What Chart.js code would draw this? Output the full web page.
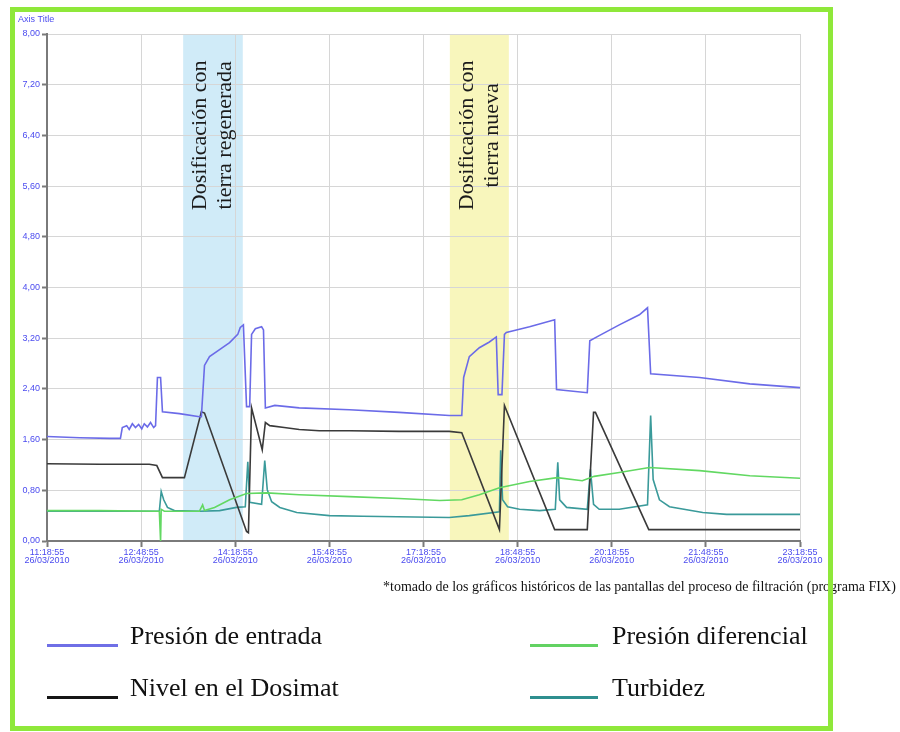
<!DOCTYPE html>
<html>
<head>
<meta charset="utf-8">
<script src="https://cdn.jsdelivr.net/npm/chart.js@4.4.0/dist/chart.umd.min.js"></script>
<style>
  html, body { margin: 0; padding: 0; background: #ffffff; }
  #wrap { position: relative; width: 900px; height: 732px; overflow: hidden; background: #ffffff; }
  #c { position: absolute; left: 0; top: 0; }
  .frame { position: absolute; left: 10px; top: 7px; width: 813px; height: 714px;
           border: 5px solid #8fe83a; z-index: 3; pointer-events: none; }
  .note { position: absolute; left: 383px; top: 579px; font-family: 'Liberation Serif', serif;
          font-size: 14px; white-space: nowrap; color: #111; z-index: 1; }
  .key { position: absolute; font-family: 'Liberation Serif', serif; font-size: 26px;
         color: #111; white-space: nowrap; line-height: 1; }
  .sw { position: absolute; height: 3px; }
</style>
</head>
<body>
<div id="wrap">
  <canvas id="c" width="900" height="732"></canvas>
  <div class="note" id="note"></div>
  <div id="legend"></div>
  <div class="frame"></div>
</div>
<script>
// Filtration process history, 26/03/2010, hours counted from 11:18:55
const seriesNames = ['Presión de entrada', 'Presión diferencial', 'Nivel en el Dosimat', 'Turbidez'];
const timeTickHours = [0, 1.5, 3, 4.5, 6, 7.5, 9, 10.5, 12];
const timeTickLabels = ['11:18:55', '12:48:55', '14:18:55', '15:48:55', '17:18:55',
                        '18:48:55', '20:18:55', '21:48:55', '23:18:55'];
const dateLabel = '26/03/2010';
const valueTicks = [0, 0.8, 1.6, 2.4, 3.2, 4.0, 4.8, 5.6, 6.4, 7.2, 8.0];
const axisTitle = 'Axis Title';
const footNote = '*tomado de los gráficos históricos de las pantallas del proceso de filtración (programa FIX)';

// [hours, value]
const presionEntrada = [
  [0, 1.65], [0.52, 1.63], [1.0, 1.62], [1.17, 1.62], [1.20, 1.79], [1.27, 1.82], [1.31, 1.76],
  [1.36, 1.85], [1.41, 1.79], [1.46, 1.84], [1.51, 1.77], [1.55, 1.85], [1.60, 1.80], [1.65, 1.87],
  [1.70, 1.79], [1.73, 1.82], [1.76, 2.58], [1.81, 2.58], [1.84, 2.04], [2.11, 2.01], [2.43, 1.96],
  [2.46, 1.96], [2.51, 2.77], [2.59, 2.91], [2.75, 3.02], [2.91, 3.13], [3.04, 3.26], [3.08, 3.37],
  [3.13, 3.41], [3.18, 2.12], [3.23, 2.12], [3.26, 3.26], [3.32, 3.35], [3.42, 3.38], [3.45, 3.33],
  [3.48, 2.10], [3.63, 2.14], [4.02, 2.10], [4.82, 2.07], [5.61, 2.03], [6.41, 1.98], [6.61, 1.98],
  [6.64, 2.58], [6.73, 2.91], [6.89, 3.05], [7.05, 3.14], [7.16, 3.22], [7.19, 2.31], [7.25, 2.31],
  [7.29, 3.26], [7.32, 3.29], [7.69, 3.38], [8.09, 3.49], [8.12, 2.39], [8.61, 2.34], [8.65, 3.16],
  [8.80, 3.24], [9.12, 3.41], [9.44, 3.57], [9.57, 3.68], [9.62, 2.64], [10.4, 2.58], [11.2, 2.48],
  [12.0, 2.42]
];
const presionDiferencial = [
  [0, 0.48], [0.84, 0.48], [1.76, 0.47], [1.79, 0.47], [1.81, 0.0], [1.82, 0.50], [1.87, 0.47],
  [2.43, 0.47], [2.48, 0.57], [2.51, 0.48], [2.67, 0.53], [2.91, 0.65], [3.18, 0.75], [3.50, 0.76],
  [4.02, 0.73], [4.82, 0.70], [5.61, 0.67], [6.26, 0.64], [6.61, 0.65], [6.89, 0.73], [7.21, 0.84],
  [7.69, 0.94], [8.13, 1.00], [8.53, 0.95], [8.72, 1.02], [9.12, 1.08], [9.60, 1.16], [10.4, 1.11],
  [11.2, 1.03], [12.0, 0.99]
];
const nivelDosimat = [
  [0, 1.22], [0.84, 1.21], [1.63, 1.21], [1.75, 1.19], [1.84, 1.00], [2.19, 1.00], [2.46, 2.04],
  [2.51, 2.02], [3.18, 0.15], [3.21, 0.13], [3.26, 2.10], [3.43, 1.44], [3.48, 1.87], [3.55, 1.82],
  [3.78, 1.79], [4.02, 1.76], [4.34, 1.74], [4.82, 1.74], [5.61, 1.73], [6.41, 1.73], [6.61, 1.71],
  [7.21, 0.18], [7.29, 2.14], [8.09, 0.18], [8.61, 0.18], [8.71, 2.03], [8.74, 2.03], [9.59, 0.18],
  [12.0, 0.18]
];
const turbidez = [
  [0, 0.47], [0.84, 0.47], [1.79, 0.47], [1.82, 0.78], [1.86, 0.65], [1.92, 0.53], [2.03, 0.48],
  [2.43, 0.47], [2.75, 0.48], [3.02, 0.53], [3.16, 0.54], [3.20, 1.25], [3.23, 0.61], [3.42, 0.58],
  [3.47, 1.27], [3.51, 0.81], [3.58, 0.62], [3.71, 0.53], [3.98, 0.45], [4.50, 0.40], [5.03, 0.39],
  [6.41, 0.37], [6.73, 0.40], [7.21, 0.46], [7.23, 1.43], [7.26, 0.65], [7.34, 0.54], [7.53, 0.50],
  [7.85, 0.48], [8.10, 0.50], [8.14, 1.24], [8.17, 0.65], [8.28, 0.53], [8.61, 0.50], [8.66, 1.13],
  [8.71, 0.58], [8.80, 0.50], [9.12, 0.50], [9.57, 0.57], [9.62, 1.98], [9.66, 0.97], [9.76, 0.65],
  [9.92, 0.54], [10.45, 0.45], [10.83, 0.42], [12.0, 0.42]
];

// dosing periods: [from hour, to hour]
const dosingPeriods = [[2.17, 3.12], [6.42, 7.36]];
const dosingLabels = [['Dosificación con', 'tierra regenerada'], ['Dosificación con', 'tierra nueva']];

const seriesData = [presionEntrada, presionDiferencial, nivelDosimat, turbidez];
const lineColors = ['#6b6be8', '#62d862', '#3a3a3a', '#3a9a9a'];
const keyColors = ['#6f6fe6', '#62d262', '#151515', '#2f8f8f'];
const bandColors = ['#d0ebf8', '#f8f6bc'];
const tickBlue = '#4b4bef';

const bandPlugin = {
  id: 'dosingBands',
  beforeDraw(chart) {
    const { ctx, chartArea: a, scales: { x } } = chart;
    ctx.save();
    dosingPeriods.forEach((p, i) => {
      const x0 = x.getPixelForValue(p[0]);
      const x1 = x.getPixelForValue(p[1]);
      ctx.fillStyle = bandColors[i];
      ctx.fillRect(x0, a.top, x1 - x0, a.bottom - a.top);
    });
    ctx.restore();
  },
  afterDraw(chart) {
    const { ctx, chartArea: a, scales: { x, y } } = chart;
    ctx.save();
    // rotated captions inside each band
    ctx.fillStyle = '#1a1a1a';
    ctx.font = '22px "Liberation Serif", serif';
    ctx.textAlign = 'center';
    ctx.textBaseline = 'middle';
    const cy = y.getPixelForValue(6.4);
    dosingPeriods.forEach((p, i) => {
      const cx = (x.getPixelForValue(p[0]) + x.getPixelForValue(p[1])) / 2;
      dosingLabels[i].forEach((t, k) => {
        ctx.save();
        ctx.translate(cx - 12.5 + k * 25, cy);
        ctx.rotate(-Math.PI / 2);
        ctx.fillText(t, 0, 0);
        ctx.restore();
      });
    });
    // axis title above the value axis
    ctx.fillStyle = tickBlue;
    ctx.font = '9px "Liberation Sans", Arial, sans-serif';
    ctx.textAlign = 'left';
    ctx.textBaseline = 'middle';
    ctx.fillText(axisTitle, a.left - 29, a.top - 14);
    ctx.restore();
  }
};

const chart = new Chart(document.getElementById('c'), {
  type: 'line',
  data: {
    datasets: seriesData.map((d, i) => ({
      label: seriesNames[i],
      data: d.map(p => ({ x: p[0], y: p[1] })),
      borderColor: lineColors[i],
      backgroundColor: lineColors[i],
      borderWidth: 1.6,
      pointRadius: 0,
      tension: 0,
      fill: false
    }))
  },
  options: {
    responsive: false,
    animation: false,
    devicePixelRatio: 1,
    layout: { padding: { left: 0, top: 34, right: 100, bottom: 161 } },
    plugins: { legend: { display: false }, tooltip: { enabled: false } },
    scales: {
      x: {
        type: 'linear', min: 0, max: 12,
        afterBuildTicks: s => { s.ticks = timeTickHours.map(v => ({ value: v })); },
        afterFit: s => { s.height = 30; },
        ticks: {
          autoSkip: false, maxRotation: 0, padding: 1, color: tickBlue,
          font: { family: '"Liberation Sans", Arial, sans-serif', size: 9, lineHeight: 0.95 },
          callback: v => [timeTickLabels[timeTickHours.indexOf(v)], dateLabel]
        },
        grid: { color: '#d6d6d6', lineWidth: 1, tickLength: 6, tickColor: '#7a7a7a', tickWidth: 2 },
        border: { display: true, color: '#7a7a7a', width: 2 }
      },
      y: {
        min: 0, max: 8,
        afterBuildTicks: s => { s.ticks = valueTicks.map(v => ({ value: v })); },
        afterFit: s => { s.width = 47; },
        ticks: {
          padding: 2, color: tickBlue,
          font: { family: '"Liberation Sans", Arial, sans-serif', size: 9 },
          callback: v => v.toFixed(2).replace('.', ',')
        },
        grid: { color: '#d6d6d6', lineWidth: 1, tickLength: 5, tickColor: '#7a7a7a', tickWidth: 2 },
        border: { display: true, color: '#7a7a7a', width: 2 }
      }
    }
  },
  plugins: [bandPlugin]
});

// footnote and legend below the plot
document.getElementById('note').textContent = footNote;
const keyPos = [[47, 130, 623], [530, 612, 623], [47, 130, 675], [530, 612, 675]];
const legend = document.getElementById('legend');
seriesNames.forEach((name, i) => {
  const [sx, tx, ty] = keyPos[i];
  const sw = document.createElement('div');
  sw.className = 'sw';
  sw.style.left = sx + 'px';
  sw.style.top = (ty + 21) + 'px';
  sw.style.width = (i % 2 ? 68 : 71) + 'px';
  sw.style.background = keyColors[i];
  legend.appendChild(sw);
  const t = document.createElement('div');
  t.className = 'key';
  t.style.left = tx + 'px';
  t.style.top = ty + 'px';
  t.textContent = name;
  legend.appendChild(t);
});
</script>
</body>
</html>
